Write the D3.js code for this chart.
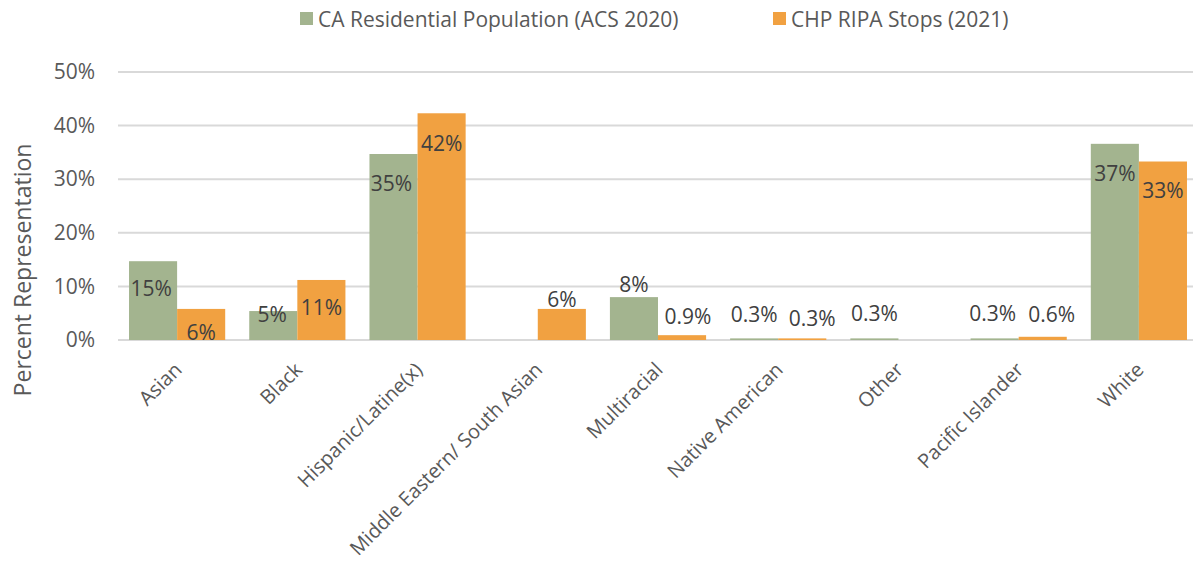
<!DOCTYPE html>
<html>
<head>
<meta charset="utf-8">
<script src="https://cdn.jsdelivr.net/npm/d3@7"></script>
<style>
  html, body { margin: 0; padding: 0; background: #ffffff; }
  svg { display: block; }
  text { font-family: "Open Sans", sans-serif; }
</style>
</head>
<body>
<div id="chart"></div>
<script>
// ---- Data ----
const categories = ["Asian", "Black", "Hispanic/Latine(x)", "Middle Eastern/ South Asian",
  "Multiracial", "Native American", "Other", "Pacific Islander", "White"];
const seriesNames = ["CA Residential Population (ACS 2020)", "CHP RIPA Stops (2021)"];
const caPopulation = [14.7, 5.4, 34.7, 0, 8.0, 0.3, 0.3, 0.3, 36.6];
const chpStops = [5.8, 11.2, 42.3, 5.8, 0.9, 0.3, 0, 0.6, 33.3];
const yTicks = [0, 10, 20, 30, 40, 50];

// ---- Layout / style ----
const W = 1193, H = 569;
const colors = ["#a3b48f", "#f1a141"];
// offsets of each data label centre from its bar top-centre (Excel auto placement)
const labelOffsetsY = [
  [27, 3, 29, 0, -13, -24, -25, -25, 29],
  [23, 27, 30, -10, -19, -20, 0, -23, 28]
];
const labelOffsetsX = [
  [-2, -1, -2, 0, 0, 0, 0, -2, 0],
  [0, 0, 0, 0, 6, 10, 0, 9, 0]
];

const svg = d3.select("#chart").append("svg").attr("width", W).attr("height", H);

const x0 = d3.scaleBand().domain(categories).range([117, 1199]).paddingInner(0.2).paddingOuter(0.1);
const x1 = d3.scaleBand().domain([0, 1]).range([0, x0.bandwidth()]);
const y = d3.scaleLinear().domain([0, 50]).range([340, 72]);

// gridlines
svg.append("g").selectAll("line").data(yTicks).join("line")
  .attr("x1", 118).attr("x2", W)
  .attr("y1", d => y(d)).attr("y2", d => y(d))
  .attr("stroke", "#d9d9d9").attr("stroke-width", 2);

// y axis
const yAxis = svg.append("g").attr("transform", "translate(95,0)")
  .call(d3.axisLeft(y).tickValues(yTicks).tickSize(0).tickPadding(0).tickFormat(d => d + "%"));
yAxis.select(".domain").remove();
yAxis.selectAll("text").attr("font-size", 21).attr("fill", "#595959")
  .attr("font-family", "'Open Sans', sans-serif");

// y title
svg.append("text")
  .attr("transform", "translate(22,270) rotate(-90)")
  .attr("text-anchor", "middle").attr("dominant-baseline", "central")
  .attr("font-size", 23).attr("fill", "#595959")
  .text("Percent Representation");

const series = [caPopulation, chpStops];
const fmt = v => v >= 1 ? Math.round(v) + "%" : v.toFixed(1) + "%";

series.forEach((vals, si) => {
  const g = svg.append("g");
  g.selectAll("rect").data(categories).join("rect")
    .attr("x", c => x0(c) + x1(si))
    .attr("width", x1.bandwidth())
    .attr("y", (c, i) => y(vals[i]))
    .attr("height", (c, i) => y(0) - y(vals[i]))
    .attr("fill", colors[si]);
});

// data labels
series.forEach((vals, si) => {
  svg.append("g").selectAll("text").data(categories.filter((c, i) => vals[i] > 0)).join("text")
    .attr("x", c => { const i = categories.indexOf(c); return x0(c) + x1(si) + x1.bandwidth() / 2 + labelOffsetsX[si][i]; })
    .attr("y", c => { const i = categories.indexOf(c); return y(vals[i]) + labelOffsetsY[si][i]; })
    .attr("text-anchor", "middle").attr("dominant-baseline", "central")
    .attr("font-size", 21).attr("fill", "#404040")
    .text(c => fmt(vals[categories.indexOf(c)]));
});

// x axis labels
const xAxis = svg.append("g").attr("transform", "translate(0,340)")
  .call(d3.axisBottom(x0).tickSize(0).tickPadding(0));
xAxis.select(".domain").remove();
xAxis.selectAll(".tick text")
  .attr("font-size", 20).attr("fill", "#595959")
  .attr("font-family", "'Open Sans', sans-serif")
  .attr("text-anchor", "end")
  .attr("dy", 0).attr("y", 0)
  .attr("transform", "translate(6,31) rotate(-45)");

// legend
const legendX = [300, 773];
const leg = svg.append("g");
seriesNames.forEach((name, i) => {
  leg.append("rect").attr("x", legendX[i]).attr("y", 12).attr("width", 13).attr("height", 13).attr("fill", colors[i]);
  leg.append("text").attr("x", legendX[i] + 18).attr("y", 19)
    .attr("dominant-baseline", "central")
    .attr("font-size", 21).attr("fill", "#595959").text(name);
});
</script>
</body>
</html>
